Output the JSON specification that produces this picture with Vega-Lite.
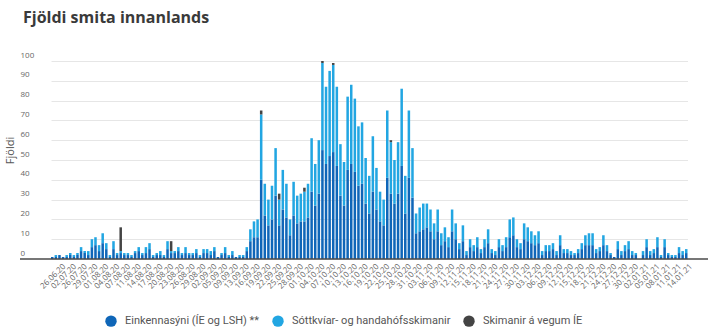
{
  "$schema": "https://vega.github.io/schema/vega-lite/v6.json",
  "autosize": {"type": "none"},
  "width": 688,
  "height": 198,
  "padding": {"left": 20, "top": 61, "right": 5, "bottom": 77},
  "background": "white",
  "config": {"view": {"stroke": null}, "font": "Open Sans"},
  "title": {"text": "Fjöldi smita innanlands", "anchor": "start", "frame": "group", "dx": 3, "offset": 25, "fontSize": 16, "font": "Open Sans", "fontWeight": "bold", "color": "#3a3a3a"},
  "layer": [
  {
  "data": {"values": [
    {"d":"21.06.20","a":1,"b":0,"c":0},
    {"d":"24.06.20","a":1,"b":1,"c":0},
    {"d":"26.06.20","a":2,"b":0,"c":0},
    {"d":"28.06.20","a":1,"b":0,"c":0},
    {"d":"30.06.20","a":1,"b":1,"c":0},
    {"d":"02.07.20","a":2,"b":1,"c":0},
    {"d":"14.07.20","a":1,"b":1,"c":0},
    {"d":"22.07.20","a":2,"b":1,"c":0},
    {"d":"26.07.20","a":4,"b":2,"c":0},
    {"d":"27.07.20","a":3,"b":1,"c":0},
    {"d":"28.07.20","a":2,"b":2,"c":0},
    {"d":"29.07.20","a":6,"b":4,"c":0},
    {"d":"30.07.20","a":7,"b":4,"c":0},
    {"d":"31.07.20","a":4,"b":3,"c":0},
    {"d":"01.08.20","a":8,"b":5,"c":0},
    {"d":"02.08.20","a":5,"b":3,"c":0},
    {"d":"03.08.20","a":1,"b":1,"c":0},
    {"d":"04.08.20","a":5,"b":4,"c":0},
    {"d":"05.08.20","a":2,"b":1,"c":0},
    {"d":"06.08.20","a":3,"b":1,"c":12},
    {"d":"07.08.20","a":2,"b":1,"c":0},
    {"d":"08.08.20","a":2,"b":1,"c":0},
    {"d":"10.08.20","a":1,"b":1,"c":0},
    {"d":"11.08.20","a":3,"b":1,"c":0},
    {"d":"12.08.20","a":4,"b":2,"c":0},
    {"d":"13.08.20","a":2,"b":1,"c":0},
    {"d":"14.08.20","a":3,"b":3,"c":0},
    {"d":"15.08.20","a":5,"b":3,"c":0},
    {"d":"16.08.20","a":1,"b":1,"c":0},
    {"d":"17.08.20","a":2,"b":1,"c":0},
    {"d":"18.08.20","a":2,"b":2,"c":0},
    {"d":"19.08.20","a":1,"b":1,"c":0},
    {"d":"20.08.20","a":5,"b":4,"c":0},
    {"d":"21.08.20","a":3,"b":1,"c":5},
    {"d":"22.08.20","a":3,"b":1,"c":0},
    {"d":"23.08.20","a":4,"b":2,"c":0},
    {"d":"24.08.20","a":2,"b":1,"c":0},
    {"d":"25.08.20","a":3,"b":3,"c":0},
    {"d":"26.08.20","a":2,"b":1,"c":0},
    {"d":"27.08.20","a":2,"b":1,"c":0},
    {"d":"28.08.20","a":3,"b":2,"c":0},
    {"d":"29.08.20","a":1,"b":1,"c":0},
    {"d":"30.08.20","a":3,"b":2,"c":0},
    {"d":"01.09.20","a":3,"b":2,"c":0},
    {"d":"02.09.20","a":2,"b":2,"c":0},
    {"d":"03.09.20","a":4,"b":2,"c":0},
    {"d":"04.09.20","a":1,"b":0,"c":0},
    {"d":"05.09.20","a":2,"b":1,"c":0},
    {"d":"06.09.20","a":3,"b":3,"c":0},
    {"d":"08.09.20","a":1,"b":1,"c":0},
    {"d":"09.09.20","a":2,"b":2,"c":0},
    {"d":"10.09.20","a":1,"b":0,"c":0},
    {"d":"11.09.20","a":1,"b":1,"c":0},
    {"d":"13.09.20","a":1,"b":1,"c":0},
    {"d":"14.09.20","a":4,"b":2,"c":0},
    {"d":"15.09.20","a":9,"b":6,"c":0},
    {"d":"16.09.20","a":11,"b":8,"c":0},
    {"d":"17.09.20","a":11,"b":9,"c":0},
    {"d":"18.09.20","a":40,"b":33,"c":2},
    {"d":"19.09.20","a":22,"b":16,"c":0},
    {"d":"20.09.20","a":17,"b":13,"c":0},
    {"d":"21.09.20","a":20,"b":17,"c":0},
    {"d":"22.09.20","a":32,"b":24,"c":0},
    {"d":"23.09.20","a":17,"b":13,"c":3},
    {"d":"24.09.20","a":25,"b":20,"c":0},
    {"d":"25.09.20","a":21,"b":17,"c":0},
    {"d":"26.09.20","a":12,"b":8,"c":0},
    {"d":"27.09.20","a":22,"b":17,"c":0},
    {"d":"28.09.20","a":18,"b":14,"c":0},
    {"d":"29.09.20","a":19,"b":14,"c":0},
    {"d":"30.09.20","a":19,"b":15,"c":2},
    {"d":"01.10.20","a":21,"b":17,"c":0},
    {"d":"02.10.20","a":34,"b":27,"c":0},
    {"d":"03.10.20","a":27,"b":21,"c":0},
    {"d":"04.10.20","a":33,"b":27,"c":0},
    {"d":"05.10.20","a":55,"b":44,"c":1},
    {"d":"06.10.20","a":48,"b":39,"c":0},
    {"d":"07.10.20","a":52,"b":43,"c":0},
    {"d":"08.10.20","a":54,"b":44,"c":1},
    {"d":"09.10.20","a":47,"b":40,"c":0},
    {"d":"10.10.20","a":32,"b":26,"c":0},
    {"d":"11.10.20","a":27,"b":22,"c":0},
    {"d":"12.10.20","a":45,"b":37,"c":0},
    {"d":"13.10.20","a":48,"b":40,"c":0},
    {"d":"14.10.20","a":44,"b":37,"c":0},
    {"d":"15.10.20","a":37,"b":30,"c":0},
    {"d":"16.10.20","a":38,"b":31,"c":0},
    {"d":"17.10.20","a":28,"b":23,"c":0},
    {"d":"18.10.20","a":23,"b":19,"c":0},
    {"d":"19.10.20","a":34,"b":28,"c":0},
    {"d":"20.10.20","a":25,"b":21,"c":0},
    {"d":"21.10.20","a":19,"b":15,"c":0},
    {"d":"22.10.20","a":17,"b":13,"c":0},
    {"d":"23.10.20","a":41,"b":34,"c":0},
    {"d":"24.10.20","a":33,"b":26,"c":1},
    {"d":"25.10.20","a":28,"b":22,"c":0},
    {"d":"26.10.20","a":33,"b":26,"c":0},
    {"d":"27.10.20","a":47,"b":39,"c":0},
    {"d":"28.10.20","a":23,"b":19,"c":0},
    {"d":"29.10.20","a":41,"b":34,"c":0},
    {"d":"30.10.20","a":31,"b":25,"c":0},
    {"d":"31.10.20","a":13,"b":10,"c":0},
    {"d":"01.11.20","a":14,"b":12,"c":0},
    {"d":"02.11.20","a":15,"b":13,"c":0},
    {"d":"03.11.20","a":16,"b":12,"c":0},
    {"d":"04.11.20","a":14,"b":11,"c":0},
    {"d":"05.11.20","a":10,"b":8,"c":0},
    {"d":"06.11.20","a":14,"b":11,"c":0},
    {"d":"07.11.20","a":7,"b":6,"c":0},
    {"d":"08.11.20","a":9,"b":7,"c":0},
    {"d":"09.11.20","a":6,"b":5,"c":0},
    {"d":"10.11.20","a":14,"b":11,"c":0},
    {"d":"11.11.20","a":10,"b":8,"c":0},
    {"d":"12.11.20","a":5,"b":3,"c":0},
    {"d":"13.11.20","a":9,"b":8,"c":0},
    {"d":"14.11.20","a":2,"b":2,"c":0},
    {"d":"15.11.20","a":6,"b":4,"c":0},
    {"d":"16.11.20","a":4,"b":3,"c":0},
    {"d":"17.11.20","a":6,"b":5,"c":0},
    {"d":"18.11.20","a":3,"b":2,"c":0},
    {"d":"19.11.20","a":6,"b":4,"c":0},
    {"d":"20.11.20","a":8,"b":7,"c":0},
    {"d":"21.11.20","a":3,"b":2,"c":0},
    {"d":"22.11.20","a":2,"b":2,"c":0},
    {"d":"23.11.20","a":6,"b":4,"c":0},
    {"d":"24.11.20","a":4,"b":3,"c":0},
    {"d":"25.11.20","a":6,"b":5,"c":0},
    {"d":"26.11.20","a":11,"b":9,"c":0},
    {"d":"27.11.20","a":12,"b":9,"c":0},
    {"d":"28.11.20","a":6,"b":4,"c":0},
    {"d":"29.11.20","a":5,"b":3,"c":0},
    {"d":"30.11.20","a":10,"b":8,"c":0},
    {"d":"01.12.20","a":9,"b":7,"c":0},
    {"d":"02.12.20","a":8,"b":6,"c":0},
    {"d":"03.12.20","a":7,"b":5,"c":0},
    {"d":"04.12.20","a":8,"b":6,"c":0},
    {"d":"05.12.20","a":2,"b":2,"c":0},
    {"d":"06.12.20","a":4,"b":3,"c":0},
    {"d":"07.12.20","a":4,"b":3,"c":0},
    {"d":"08.12.20","a":5,"b":3,"c":0},
    {"d":"09.12.20","a":2,"b":2,"c":0},
    {"d":"10.12.20","a":7,"b":5,"c":0},
    {"d":"11.12.20","a":3,"b":2,"c":0},
    {"d":"12.12.20","a":3,"b":2,"c":0},
    {"d":"13.12.20","a":2,"b":2,"c":0},
    {"d":"14.12.20","a":2,"b":1,"c":0},
    {"d":"15.12.20","a":3,"b":2,"c":0},
    {"d":"16.12.20","a":5,"b":3,"c":0},
    {"d":"17.12.20","a":7,"b":5,"c":0},
    {"d":"18.12.20","a":7,"b":6,"c":0},
    {"d":"19.12.20","a":7,"b":6,"c":0},
    {"d":"20.12.20","a":3,"b":2,"c":0},
    {"d":"21.12.20","a":4,"b":2,"c":0},
    {"d":"22.12.20","a":7,"b":5,"c":0},
    {"d":"23.12.20","a":4,"b":3,"c":0},
    {"d":"24.12.20","a":2,"b":1,"c":0},
    {"d":"25.12.20","a":1,"b":0,"c":0},
    {"d":"26.12.20","a":5,"b":4,"c":0},
    {"d":"27.12.20","a":2,"b":2,"c":0},
    {"d":"28.12.20","a":4,"b":3,"c":0},
    {"d":"29.12.20","a":5,"b":4,"c":0},
    {"d":"30.12.20","a":2,"b":2,"c":0},
    {"d":"31.12.20","a":2,"b":1,"c":0},
    {"d":"01.01.21","a":0,"b":0,"c":0},
    {"d":"02.01.21","a":2,"b":2,"c":0},
    {"d":"03.01.21","a":6,"b":4,"c":0},
    {"d":"04.01.21","a":2,"b":2,"c":0},
    {"d":"05.01.21","a":3,"b":2,"c":0},
    {"d":"06.01.21","a":6,"b":5,"c":0},
    {"d":"07.01.21","a":1,"b":1,"c":0},
    {"d":"08.01.21","a":6,"b":4,"c":0},
    {"d":"09.01.21","a":2,"b":1,"c":0},
    {"d":"10.01.21","a":1,"b":1,"c":0},
    {"d":"11.01.21","a":1,"b":1,"c":0},
    {"d":"12.01.21","a":3,"b":3,"c":0},
    {"d":"13.01.21","a":2,"b":2,"c":0},
    {"d":"14.01.21","a":3,"b":2,"c":0}
  ]},
  "transform": [{"fold": ["a", "b", "c"], "as": ["flokkur", "fjoldi"]}],
  "mark": {"type": "bar", "stroke": null},
  "encoding": {
    "x": {
      "field": "d", "type": "ordinal", "sort": null,
      "scale": {"type": "band", "paddingInner": 0.3, "paddingOuter": 0, "range": [31, 667.5]},
      "axis": {
        "title": null,
        "values": ["26.06.20","02.07.20","26.07.20","29.07.20","01.08.20","04.08.20","07.08.20","11.08.20","14.08.20","17.08.20","20.08.20","23.08.20","26.08.20","29.08.20","02.09.20","05.09.20","09.09.20","13.09.20","16.09.20","19.09.20","22.09.20","25.09.20","28.09.20","01.10.20","04.10.20","07.10.20","10.10.20","13.10.20","16.10.20","19.10.20","22.10.20","25.10.20","28.10.20","31.10.20","03.11.20","06.11.20","09.11.20","12.11.20","15.11.20","18.11.20","21.11.20","24.11.20","27.11.20","30.11.20","03.12.20","06.12.20","09.12.20","12.12.20","15.12.20","18.12.20","21.12.20","24.12.20","27.12.20","30.12.20","02.01.21","05.01.21","08.01.21","11.01.21","14.01.21"],
        "labelAngle": -45, "labelAlign": "right", "labelBaseline": "middle",
        "labelFontSize": 8, "labelColor": "#666666", "labelPadding": 6, "labelOffset": 5,
        "ticks": false, "domain": false,
        "labelOverlap": false, "grid": false
      }
    },
    "y": {
      "field": "fjoldi", "type": "quantitative", "stack": "zero",
      "scale": {"domain": [0, 100], "nice": false},
      "axis": {
        "title": "Fjöldi", "titleFontSize": 11, "titleFontWeight": "normal", "titleColor": "#555555",
        "titleX": -10, "titleY": 89, "titleAlign": "center", "titleBaseline": "middle", "titleAngle": -90,
        "values": [0, 10, 20, 30, 40, 50, 60, 70, 80, 90, 100],
        "labelAlign": "left", "labelBaseline": "bottom", "labelPadding": 0, "labelOffset": -2,
        "labelFontSize": 8, "labelColor": "#666666",
        "ticks": false, "tickSize": 0, "domain": false,
        "grid": true, "gridColor": "#e6e6e6", "gridWidth": 1
      }
    },
    "order": {"field": "flokkur", "sort": "ascending"},
    "color": {
      "field": "flokkur", "type": "nominal",
      "scale": {"domain": ["a", "b", "c"], "range": ["#0f66b8", "#22a6e2", "#444444"]},
      "legend": {
        "title": null, "orient": "none", "legendX": 85, "legendY": 254, "direction": "horizontal",
        "symbolType": "circle", "symbolSize": 130, "symbolStrokeWidth": 0,
        "labelFont": "Roboto", "labelFontSize": 11, "labelColor": "#555555", "labelOffset": 8, "columnPadding": 12, "labelLimit": 300,
        "labelExpr": "datum.label == 'a' ? 'Einkennasýni (ÍE og LSH) **' : datum.label == 'b' ? 'Sóttkvíar- og handahófsskimanir' : 'Skimanir á vegum ÍE'"
      }
    }
  }
  },
  {
    "data": {"values": [{}]},
    "mark": {"type": "rule", "color": "#4a4a4a", "strokeWidth": 1.5},
    "encoding": {"y": {"datum": 0, "type": "quantitative",
      "scale": {"domain": [0, 100], "nice": false},
      "axis": {
        "title": "Fjöldi", "titleFontSize": 11, "titleFontWeight": "normal", "titleColor": "#555555",
        "titleX": -10, "titleY": 89, "titleAlign": "center", "titleBaseline": "middle", "titleAngle": -90,
        "values": [0, 10, 20, 30, 40, 50, 60, 70, 80, 90, 100],
        "labelAlign": "left", "labelBaseline": "bottom", "labelPadding": 0, "labelOffset": -2,
        "labelFontSize": 8, "labelColor": "#666666",
        "ticks": false, "tickSize": 0, "domain": false,
        "grid": true, "gridColor": "#e6e6e6", "gridWidth": 1
      }}}
  }
  ]
}
